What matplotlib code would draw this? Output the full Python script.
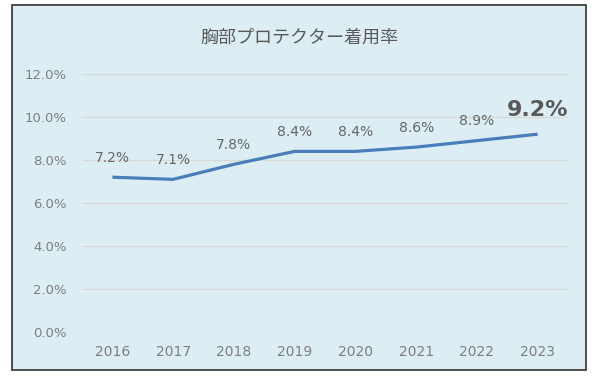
import numpy as np
import matplotlib.pyplot as plt
from matplotlib.patches import Rectangle
from matplotlib.ticker import FuncFormatter

plt.rcParams['font.family'] = ['DejaVu Sans', 'Noto Sans CJK JP']

# データ
years = ['2016', '2017', '2018', '2019', '2020', '2021', '2022', '2023']
rates = [7.2, 7.1, 7.8, 8.4, 8.4, 8.6, 8.9, 9.2]
title = '胸部プロテクター着用率'

bg = '#DCEEF4'
line_color = '#4A7EBB'
text_gray = '#7F7F7F'
label_gray = '#595959'

fig = plt.figure(figsize=(6, 3.8), dpi=100, facecolor='white')

# 外枠（背景ボックス）
box = Rectangle((12 / 600, 1 - 370 / 380), (586 - 12) / 600, (370 - 5) / 380,
                transform=fig.transFigure, facecolor=bg, edgecolor='#404040',
                linewidth=1.3, zorder=-10)
fig.patches.append(box)

ax = fig.add_axes([82 / 600, 1 - 332 / 380, (568 - 82) / 600, (332 - 74) / 380])
ax.set_facecolor('none')

x = np.arange(len(years))
ax.plot(x, rates, color=line_color, linewidth=2.3, solid_capstyle='butt', zorder=3)

# データラベル
for i, (xi, v) in enumerate(zip(x, rates)):
    if i == len(rates) - 1:
        ax.annotate(f'{v:.1f}%', (xi, v), xytext=(0, 10), textcoords='offset points',
                    ha='center', va='bottom', fontsize=16, fontweight='bold',
                    color=label_gray, family='DejaVu Sans')
    else:
        ax.annotate(f'{v:.1f}%', (xi, v), xytext=(0, 9), textcoords='offset points',
                    ha='center', va='bottom', fontsize=10, color='#666666',
                    family='DejaVu Sans')

ax.set_xlim(-0.5, len(years) - 0.5)
ax.set_ylim(0, 12)
ax.set_yticks(np.arange(0, 12.1, 2))
ax.yaxis.set_major_formatter(FuncFormatter(lambda v, p: f'{v:.1f}%'))
ax.set_xticks(x)
ax.set_xticklabels(years)
ax.grid(axis='y', color='#D9D9D9', linewidth=0.9, zorder=1)
ax.set_axisbelow(True)
for s in ax.spines.values():
    s.set_visible(False)
ax.tick_params(axis='both', length=0, labelcolor=text_gray)
ax.tick_params(axis='y', pad=11, labelsize=9.5)
ax.tick_params(axis='x', pad=9, labelsize=10)

fig.text(299 / 600, 1 - 38 / 380, title, ha='center', va='center',
         fontsize=13, color=label_gray, family=['Noto Sans CJK JP', 'DejaVu Sans'])

fig.savefig('out.png', dpi=100, facecolor='white')
